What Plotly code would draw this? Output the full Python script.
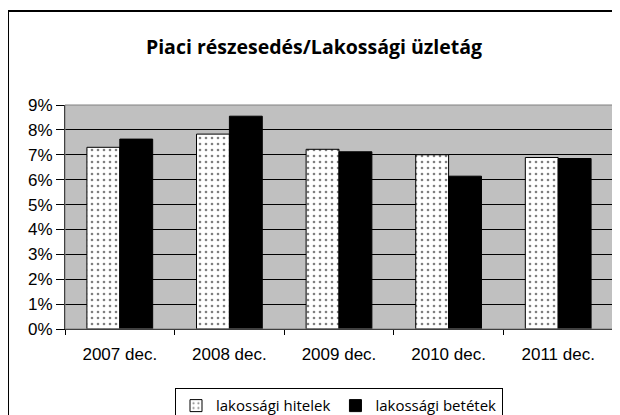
import plotly.graph_objects as go

# adatok
evek = ["2007 dec.", "2008 dec.", "2009 dec.", "2010 dec.", "2011 dec."]
hitelek = [0.0730, 0.0783, 0.0722, 0.0700, 0.0689]
betetek = [0.0763, 0.0855, 0.0712, 0.0614, 0.0685]

fig = go.Figure()

fig.add_trace(go.Bar(x=evek, y=hitelek, name="lakossági hitelek",
                     marker=dict(color="white",
                                 line=dict(color="black", width=1),
                                 pattern=dict(shape=".", fgcolor="black", bgcolor="white",
                                              size=6, solidity=0.15))))
fig.add_trace(go.Bar(x=evek, y=betetek, name="lakossági betétek",
                     marker=dict(color="black", line=dict(color="black", width=1))))

# plot terület szürke keret + külső keret
fig.add_shape(type="rect", xref="paper", yref="paper", x0=0, x1=1, y0=0, y1=1,
              line=dict(color="#808080", width=1), layer="above")
fig.add_shape(type="rect", xref="paper", yref="paper", x0=-0.104, x1=1.2, y0=-0.6, y1=1.42,
              line=dict(color="black", width=2))

# a böngésző 8px body margót ad, ezért kisebb figura
fig.update_layout(
    width=612, height=407,
    margin=dict(l=57, r=7, t=97, b=86, autoexpand=False),
    paper_bgcolor="white",
    plot_bgcolor="#C0C0C0",
    barmode="group", bargap=0.4, bargroupgap=0,
    title=dict(text="<b>Piaci részesedés/Lakossági üzletág</b>", x=0.5, xanchor="center",
               y=0.904, yanchor="middle",
               font=dict(family="Open Sans", size=19.5, color="black")),
    font=dict(family="Liberation Sans", size=17, color="black"),
    legend=dict(orientation="h", x=0.5, xanchor="center", y=-0.265, yanchor="top",
                bordercolor="black", borderwidth=1, bgcolor="white",
                font=dict(family="Open Sans", size=15), itemwidth=30,
                tracegroupgap=0),
    showlegend=True,
)

fig.update_xaxes(showline=True, linecolor="black", linewidth=1, automargin=False,
                 ticks="outside", tickson="boundaries", ticklen=5, tickcolor="black",
                 ticklabelstandoff=10, showgrid=False)
fig.update_yaxes(range=[0, 0.09], dtick=0.01, tickformat=".0%", automargin=False,
                 showline=True, linecolor="black", linewidth=1,
                 ticks="outside", ticklen=8, tickcolor="black",
                 showgrid=True, gridcolor="black", gridwidth=1, zeroline=False)

fig.write_html("out.html")
